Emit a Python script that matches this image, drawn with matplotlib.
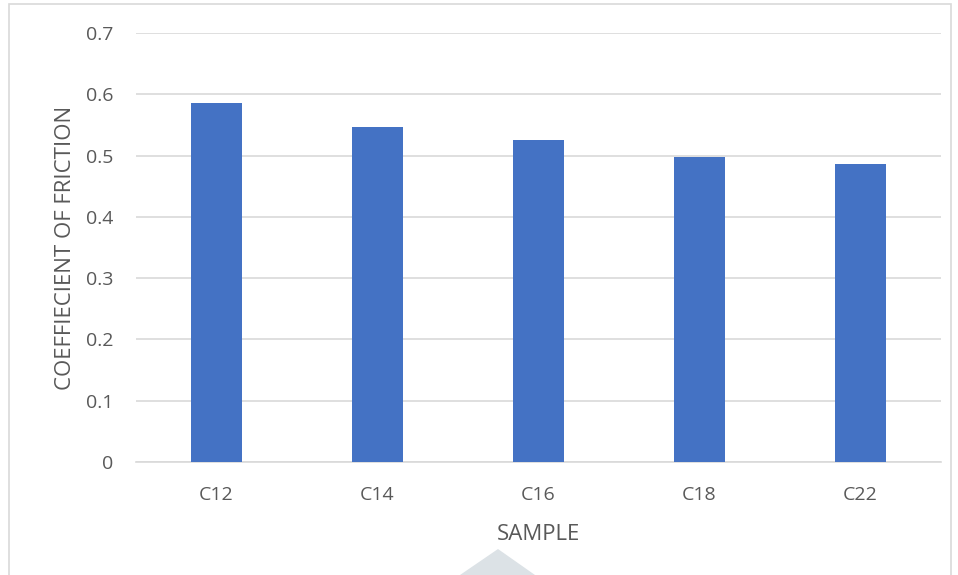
import matplotlib.pyplot as plt
from matplotlib.patches import Polygon, Rectangle

# data
samples = ["C12", "C14", "C16", "C18", "C22"]
cof = [0.586, 0.546, 0.526, 0.497, 0.487]
yticks = [0, 0.1, 0.2, 0.3, 0.4, 0.5, 0.6, 0.7]

plt.rcParams['font.family'] = ['Open Sans', 'DejaVu Sans']
txt = "#595959"

fig = plt.figure(figsize=(9.58, 5.75), dpi=100)
W, H = 958, 575
ax = fig.add_axes([136 / W, 1 - 462 / H, 805 / W, 429 / H])

x = range(len(samples))
ax.bar(x, cof, width=0.317, color="#4472C4", zorder=3)

ax.set_xlim(-0.5, len(samples) - 0.5)
ax.set_ylim(0, 0.7)
ax.set_yticks(yticks)
ax.set_yticklabels(["0" if v == 0 else f"{v:.1f}" for v in yticks])
ax.set_xticks(list(x))
ax.set_xticklabels(samples)

ax.grid(axis="y", color="#d9d9d9", lw=1.2, zorder=0)
for s in ["top", "right", "left"]:
    ax.spines[s].set_visible(False)
ax.spines["bottom"].set_color("#d9d9d9")
ax.spines["bottom"].set_linewidth(1.2)
ax.tick_params(length=0, labelsize=14, colors=txt)
ax.tick_params(axis="y", pad=16.5)
ax.tick_params(axis="x", pad=17)

ax.set_xlabel("SAMPLE", fontsize=16, color=txt, labelpad=15)
ax.set_ylabel("COEFFIECIENT OF FRICTION", fontsize=16, color=txt, labelpad=7)

# chart frame and faint watermark shape
fig.patches.append(Rectangle((9 / W, -0.01), (951 - 9) / W, 1 - 4 / H + 0.01,
                             transform=fig.transFigure, fill=False,
                             ec="#d9d9d9", lw=1.2))
fig.patches.append(Polygon([(460 / W, 0), (498 / W, 1 - 549 / H), (535 / W, 0)],
                           closed=True, transform=fig.transFigure,
                           fc="#dce2e6", ec="none"))

fig.savefig("out.png", dpi=100)
